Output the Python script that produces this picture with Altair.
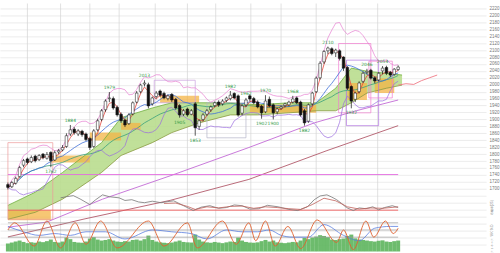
import altair as alt
import pandas as pd

# ---------------- data ----------------
candle_idx = list(range(101))
opens = [1712,1706,1716,1735,1768,1786,1778,1794,1784,1800,
         1788,1805,1783,1806,1812,1822,1858,1872,1858,1866,
         1858,1845,1822,1870,1900,1928,1960,1960,1935,1915,
         1898,1888,1916,1950,1980,2002,2000,1945,1966,1982,
         1975,1960,1972,1958,1940,1915,1930,1915,1945,1880,
         1900,1915,1928,1940,1950,1945,1955,1960,1975,1968,
         1918,1942,1968,1960,1950,1938,1922,1958,1942,1922,
         1932,1940,1942,1950,1962,1950,1925,1895,1945,1980,
         2020,2066,2098,2104,2092,2098,2080,2050,1995,1958,
         1980,2010,2036,2042,2020,2014,2040,2050,2036,2030,2044]
highs = [1718,1722,1735,1766,1786,1790,1796,1798,1800,1803,
         1806,1808,1810,1815,1826,1860,1884,1878,1872,1870,
         1862,1850,1872,1902,1930,1958,1979,1966,1940,1920,
         1902,1918,1952,1982,2003,2013,2006,1966,1982,1986,
         1980,1972,1976,1962,1944,1930,1934,1930,1950,1900,
         1918,1930,1940,1952,1955,1958,1966,1982,1978,1972,
         1944,1962,1972,1965,1955,1942,1970,1966,1946,1934,
         1940,1948,1954,1968,1966,1954,1930,1946,1980,2024,
         2068,2100,2110,2108,2104,2102,2082,2054,1998,1980,
         2010,2038,2046,2046,2024,2036,2054,2055,2040,2048,2056]
lows = [1698,1702,1712,1732,1762,1770,1774,1776,1780,1785,
        1784,1762,1780,1800,1808,1818,1852,1856,1852,1850,
        1838,1812,1818,1865,1895,1922,1950,1928,1908,1890,
        1878,1884,1912,1946,1975,1995,1932,1940,1960,1965,
        1958,1955,1950,1928,1905,1910,1908,1912,1853,1870,
        1895,1910,1922,1935,1936,1940,1950,1955,1958,1908,
        1912,1936,1952,1944,1932,1902,1918,1935,1900,1915,
        1928,1935,1938,1946,1944,1908,1882,1890,1940,1976,
        2015,2060,2088,2085,2080,2070,2040,1985,1932,1950,
        1975,2005,2030,2015,2004,2010,2030,2028,2022,2026,2040]
closes = [1704,1718,1730,1761,1781,1776,1790,1781,1796,1790,
          1799,1781,1804,1810,1819,1853,1870,1862,1867,1856,
          1842,1819,1867,1896,1925,1953,1962,1933,1913,1896,
          1884,1913,1948,1976,1999,2005,1939,1962,1976,1970,
          1962,1968,1956,1933,1913,1925,1913,1925,1876,1896,
          1913,1925,1936,1948,1942,1953,1962,1970,1962,1913,
          1939,1956,1959,1948,1936,1919,1953,1939,1919,1930,
          1936,1945,1950,1959,1948,1913,1890,1942,1976,2019,
          2062,2096,2106,2090,2100,2076,2048,1990,1953,1976,
          2005,2033,2039,2019,2011,2033,2048,2033,2028,2045,2051]
volumes = [40,45,50,55,48,42,46,44,50,47,
           52,60,48,45,50,70,62,48,45,44,
           50,65,72,60,55,58,62,55,50,48,
           52,50,58,60,55,62,80,58,50,46,
           44,42,45,50,55,48,46,45,85,60,
           50,46,44,48,45,42,46,50,48,70,
           55,48,45,44,46,52,58,50,55,46,
           44,42,45,48,46,55,68,62,70,75,
           82,78,72,60,58,62,65,78,85,66,
           60,58,55,52,50,54,56,50,48,52,55]

# cloud (upper / lower edge)
cloud_i = [0, 7, 14, 24, 29, 37, 42, 49, 57, 64, 72, 79, 84, 88, 92, 97, 101]
cloud_up = [1652, 1690, 1747, 1833, 1905, 1933, 1948, 1948, 1948, 1942, 1948, 1948, 1990, 2048, 2039, 2033, 2028]
cloud_lo = [1612, 1632, 1670, 1747, 1796, 1833, 1862, 1890, 1913, 1913, 1919, 1925, 1925, 1948, 1976, 1990, 1999]

# orange flat bands
band_i0 = [0, 11, 21, 29, 39, 62, 87, 94]
band_i1 = [11, 21, 29, 34, 49, 79, 92, 99]
band_top = [1638, 1796, 1862, 1890, 1968, 1942, 2005, 2019]
band_bot = [1609, 1776, 1839, 1870, 1948, 1919, 1956, 1976]

# outlined boxes
box_i0 = [0, 37.5, 51, 84.75, 86.75, 92.5]
box_i1 = [11.5, 48, 61, 93, 95, 98.5]
box_top = [1833, 2013, 1948, 2119, 2071, 2068]
box_bot = [1612, 1948, 1847, 1919, 1882, 1962]
box_col = ["#ee9a9a", "#c9a0e0", "#b4b4c8", "#f07ad0", "#b070e0", "#f07ad0"]

# long moving averages
lma1_i = [0, 10, 24.25, 41.75, 61.75, 78.5, 89.25, 100]
lma1_p = [1589, 1604, 1670, 1738, 1819, 1890, 1925, 1956]
lma2_i = [0, 19.25, 41.75, 61.75, 81.75, 100]
lma2_p = [1561, 1612, 1667, 1727, 1810, 1882]

# projected line beyond last candle
fut_i = [100, 102, 104, 106, 108, 110]
fut_p = [1999, 2003, 2001, 2012, 2020, 2028]

hline_price = 1741

# candle labels
lab_i = [11, 16, 26, 35, 44, 48, 57, 61, 65, 66, 68, 73, 76, 82, 88, 92, 96]
lab_p = [1762, 1884, 1979, 2013, 1905, 1853, 1982, 1962, 1902, 1970, 1900, 1968, 1882, 2110, 1932, 2046, 2054]
lab_pos = ["low", "high", "high", "high", "low", "low", "high", "high", "low",
           "high", "low", "high", "low", "high", "low", "high", "high"]

# oscillator (gray) and its companion (red-brown)
osc_i = [13.5, 15, 16.75, 18.5, 21, 22.5, 24.25, 26, 28.5, 30, 31.75, 33.5, 35, 37, 39.25, 41, 42.5,
         45, 47.5, 49.5, 51.75, 54, 56, 58, 60, 62, 64.25, 66.5, 69.25, 72, 74.25, 76.75, 78.5, 80,
         81.75, 83, 84.25, 85.5, 86.75, 88.5, 90, 91.75, 93.5, 95, 96.5, 98.5, 100]
osc_v = [3.3, 3.6, 3.9, 3.0, 1.5, 2.8, 4.1, 3.6, 3.3, 2.6, 2.8, 2.2, 2.0, 2.4, 2.0, 2.3, 2.5,
         1.2, -0.1, 0.8, 1.2, 0.5, 0.7, 1.4, 1.2, 0.3, 0.4, 1.3, 0.9, 0.2, -0.1, 0.9, 2.8, 3.8,
         4.1, 3.5, 2.8, 1.8, 0.7, -0.1, 0.6, 0.4, 0.9, 0.1, 0.7, 1.2, 0.7]
osc2_i = [40, 43, 46, 48, 51, 54, 57, 60, 63, 66, 69, 72, 75, 78, 81, 84, 87, 90, 93, 96, 100]
osc2_v = [1.8, 1.9, 1.0, 0.2, 0.9, 0.6, 1.0, 1.1, 0.5, 0.9, 0.7, 0.4, 0.2, 1.5, 3.2, 2.5, 0.9, 0.3, 0.6, 0.5, 0.9]

# stochastics
k_i = [0, 1.75, 6.75, 10, 13.5, 17.25, 20, 23.75, 28, 36, 40, 46, 48.5, 55, 58.5, 61.75, 63.5, 66,
       68.5, 71.75, 75, 79.25, 84.25, 86, 88.5, 91.75, 93.75, 96.75, 98.75, 100]
k_v = [60, 80, 15, 85, 10, 80, 20, 85, 10, 85, 15, 80, 10, 85, 20, 80, 30, 85, 15, 70, 8, 88, 25,
       60, 5, 85, 40, 85, 50, 65]
d_i = [0, 4, 8, 12, 16, 20, 25, 30, 37, 42, 47, 51, 56, 60, 64, 67, 70, 73, 77, 81, 86, 90, 94, 98, 100]
d_v = [70, 55, 45, 50, 45, 55, 55, 35, 60, 55, 50, 35, 60, 55, 55, 60, 45, 40, 40, 75, 45, 30, 65, 70, 70]
stoch_levels = [80, 60, 40]

# month grid / ticks
grid_idx = [5, 13.5, 21, 28.5, 37.75, 46, 53.25, 62.25, 70, 79, 86.5, 94.75]
tick_idx = [6, 14.25, 21.75, 29.25, 38.5, 47.25, 54.75, 62.5, 71, 79.25, 87.5, 96]
month_labels = ["12", "1", "2", "3", "4", "5", "6", "7", "8", "9", "10", "11"]

price_grid = list(range(1540, 2221, 20))

# ---------------- chart ----------------
W, H = 488, 249
xsc = alt.Scale(domain=[-0.75, 121.25], nice=False, zero=False)


def psc():
    return alt.Scale(domain=[1519, 2234.4], nice=False, zero=False)


def X(field="i"):
    return alt.X(f"{field}:Q", scale=xsc, axis=None, title=None)


def PY(field, axis=None):
    return alt.Y(f"{field}:Q", scale=psc(), axis=axis, title=None)


df = pd.DataFrame({"i": candle_idx, "o": opens, "h": highs, "l": lows, "c": closes, "v": volumes})

label_expr = "[" + ",".join(f"'{m}'" for m in month_labels) + "][indexof([" + \
    ",".join(str(t) for t in tick_idx) + "], datum.value)]"

month_rules = alt.Chart(pd.DataFrame({"i": grid_idx})).mark_rule(
    color="#d4d4d4", strokeWidth=0.7).encode(
    x=alt.X("i:Q", scale=xsc, title=None,
            axis=alt.Axis(values=tick_idx, labelExpr=label_expr, grid=False, ticks=True,
                          tickSize=3, tickColor="#999", domain=True, domainColor="#bbb",
                          labelFontSize=5, labelColor="#666", labelPadding=1)))

price_axis_layer = alt.Chart(pd.DataFrame({"p": [1519, 2234.4]})).mark_point(opacity=0).encode(
    y=alt.Y("p:Q", scale=psc(), title=None,
            axis=alt.Axis(orient="right", values=price_grid, format="d",
                          labelExpr="datum.value >= 1700 ? datum.label : ''",
                          grid=True, gridColor="#e3e3e3", gridWidth=0.7,
                          ticks=False, domain=False, labelFontSize=4.5,
                          labelColor="#777", labelPadding=3)))

cdf = pd.DataFrame({"i": cloud_i, "up": cloud_up, "lo": cloud_lo})
cloud = alt.Chart(cdf).mark_area(color="#b9dd8e", opacity=0.9).encode(
    x=X(), y=PY("up"), y2="lo:Q")
cloud_up_line = alt.Chart(cdf).mark_line(color="#6fae3c", strokeWidth=0.8).encode(x=X(), y=PY("up"))
cloud_lo_line = alt.Chart(cdf).mark_line(color="#8a9a40", strokeWidth=0.8).encode(x=X(), y=PY("lo"))

bdf = pd.DataFrame({"i": band_i0, "i1": band_i1, "t": band_top, "b": band_bot})
bands = alt.Chart(bdf).mark_rect(color="#f4b445", opacity=0.75).encode(
    x=X(), x2="i1:Q", y=PY("t"), y2="b:Q")

boxdf = pd.DataFrame({"i": box_i0, "i1": box_i1, "t": box_top, "b": box_bot, "col": box_col})
boxes = alt.Chart(boxdf).mark_rect(fillOpacity=0, strokeWidth=0.7).encode(
    x=X(), x2="i1:Q", y=PY("t"), y2="b:Q",
    stroke=alt.Stroke("col:N", scale=None))

lma1 = alt.Chart(pd.DataFrame({"i": lma1_i, "p": lma1_p})).mark_line(
    color="#c36ad6", strokeWidth=0.9).encode(x=X(), y=PY("p"))
lma2 = alt.Chart(pd.DataFrame({"i": lma2_i, "p": lma2_p})).mark_line(
    color="#b25a6a", strokeWidth=0.9).encode(x=X(), y=PY("p"))

hline = alt.Chart(pd.DataFrame({"i": [0], "i1": [100], "p": [hline_price]})).mark_rule(
    color="#e36ae0", strokeWidth=0.9).encode(x=X(), x2="i1:Q", y=PY("p"))

fut = alt.Chart(pd.DataFrame({"i": fut_i, "p": fut_p})).mark_line(
    color="#ef7a86", strokeWidth=0.9).encode(x=X(), y=PY("p"))

# oscillator panel
osc_scale = lambda: alt.Scale(domain=[-2, 6], range=[215, 185], nice=False, zero=False)
osc_zero = alt.Chart(pd.DataFrame({"i": [0], "i1": [100], "v": [0]})).mark_rule(
    color="#f05a5a", strokeWidth=0.9).encode(
    x=X(), x2="i1:Q", y=alt.Y("v:Q", scale=osc_scale(), axis=None))
osc_line = alt.Chart(pd.DataFrame({"i": osc_i, "v": osc_v})).mark_line(
    color="#777777", strokeWidth=0.8).encode(
    x=X(), y=alt.Y("v:Q", scale=osc_scale(), axis=None))
osc2_line = alt.Chart(pd.DataFrame({"i": osc2_i, "v": osc2_v})).mark_line(
    color="#c0605a", strokeWidth=0.8).encode(
    x=X(), y=alt.Y("v:Q", scale=osc_scale(), axis=None))

# stochastics + volume
st_scale = lambda: alt.Scale(domain=[0, 100], range=[249, 213], nice=False, zero=False)
vol_scale = alt.Scale(domain=[0, 100], range=[249, 229], nice=False)
vol = alt.Chart(df).mark_bar(color="#5db55d", size=4, opacity=0.9).encode(
    x=X(), y=alt.Y("v:Q", scale=vol_scale, axis=None))
st_lev = alt.Chart(pd.DataFrame({"i": [0] * 3, "i1": [100] * 3, "v": stoch_levels})).mark_rule(
    color="#9a9a9a", strokeWidth=0.7).encode(
    x=X(), x2="i1:Q", y=alt.Y("v:Q", scale=st_scale(), axis=None))
st_k = alt.Chart(pd.DataFrame({"i": k_i, "v": k_v})).mark_line(
    color="#e0602e", strokeWidth=0.9, interpolate="monotone").encode(
    x=X(), y=alt.Y("v:Q", scale=st_scale(), axis=None))
st_d = alt.Chart(pd.DataFrame({"i": d_i, "v": d_v})).mark_line(
    color="#5b7fe0", strokeWidth=0.8, interpolate="monotone").encode(
    x=X(), y=alt.Y("v:Q", scale=st_scale(), axis=None))

# moving averages / bands from candle data
mbase = alt.Chart(df).transform_window(
    ma3="mean(c)", frame=[-2, 0], sort=[alt.SortField("i")]).transform_window(
    ma10="mean(c)", sd10="stdevp(c)", frame=[-9, 0], sort=[alt.SortField("i")]).transform_window(
    ma25="mean(c)", frame=[-24, 0], sort=[alt.SortField("i")]).transform_calculate(
    bu="datum.ma10 + 2*datum.sd10", bl="datum.ma10 - 2*datum.sd10")
ma3 = mbase.mark_line(color="#e8453c", strokeWidth=0.8).encode(x=X(), y=PY("ma3"))
ma10 = mbase.mark_line(color="#3f6fd8", strokeWidth=0.8).encode(x=X(), y=PY("ma10"))
ma25 = mbase.mark_line(color="#3aa07a", strokeWidth=0.8).encode(x=X(), y=PY("ma25"))
bbu = mbase.mark_line(color="#e77fd1", strokeWidth=0.7).encode(x=X(), y=PY("bu"))
bbl = mbase.mark_line(color="#9a6be0", strokeWidth=0.7).encode(x=X(), y=PY("bl"))

# candles
wick = alt.Chart(df).mark_rule(color="#111111", strokeWidth=0.7).encode(
    x=X(), y=PY("h"), y2="l:Q")
body = alt.Chart(df).transform_calculate(
    top="max(datum.o, datum.c)", bot="min(datum.o, datum.c)").mark_bar(
    size=2.6, stroke="#111111", strokeWidth=0.5).encode(
    x=X(), y=PY("top"), y2="bot:Q",
    fill=alt.condition("datum.c >= datum.o", alt.value("white"), alt.value("#111111")))

ldf = pd.DataFrame({"i": lab_i, "p": lab_p, "pos": lab_pos})
ldf["t"] = ldf["p"].astype(str)
lab_hi = alt.Chart(ldf[ldf.pos == "high"]).mark_text(
    fontSize=4.5, color="#2f9a45", dy=-4, font="DejaVu Sans").encode(x=X(), y=PY("p"), text="t:N")
lab_lo = alt.Chart(ldf[ldf.pos == "low"]).mark_text(
    fontSize=4.5, color="#2f9a45", dy=5, font="DejaVu Sans").encode(x=X(), y=PY("p"), text="t:N")

side1 = alt.Chart(pd.DataFrame({"t": ["乖離率(25)"]})).mark_text(
    fontSize=3.5, color="#888", angle=270).encode(text="t:N", x=alt.value(494), y=alt.value(205))
side2 = alt.Chart(pd.DataFrame({"t": ["ストキャス %K %D"]})).mark_text(
    fontSize=3.5, color="#888", angle=270).encode(text="t:N", x=alt.value(494), y=alt.value(236))

chart = alt.layer(
    price_axis_layer, month_rules, cloud, bands, cloud_up_line, cloud_lo_line, boxes,
    lma1, lma2, hline, osc_zero, osc_line, osc2_line, vol, st_lev, st_d, st_k,
    ma25, bbu, bbl, ma10, ma3, fut, wick, body, lab_hi, lab_lo, side1, side2
).resolve_scale(y="independent").properties(
    width=W, height=H, padding=0, background="white"
).configure_view(stroke=None)

chart.save("out.html", embed_options={"renderer": "svg", "actions": False})
